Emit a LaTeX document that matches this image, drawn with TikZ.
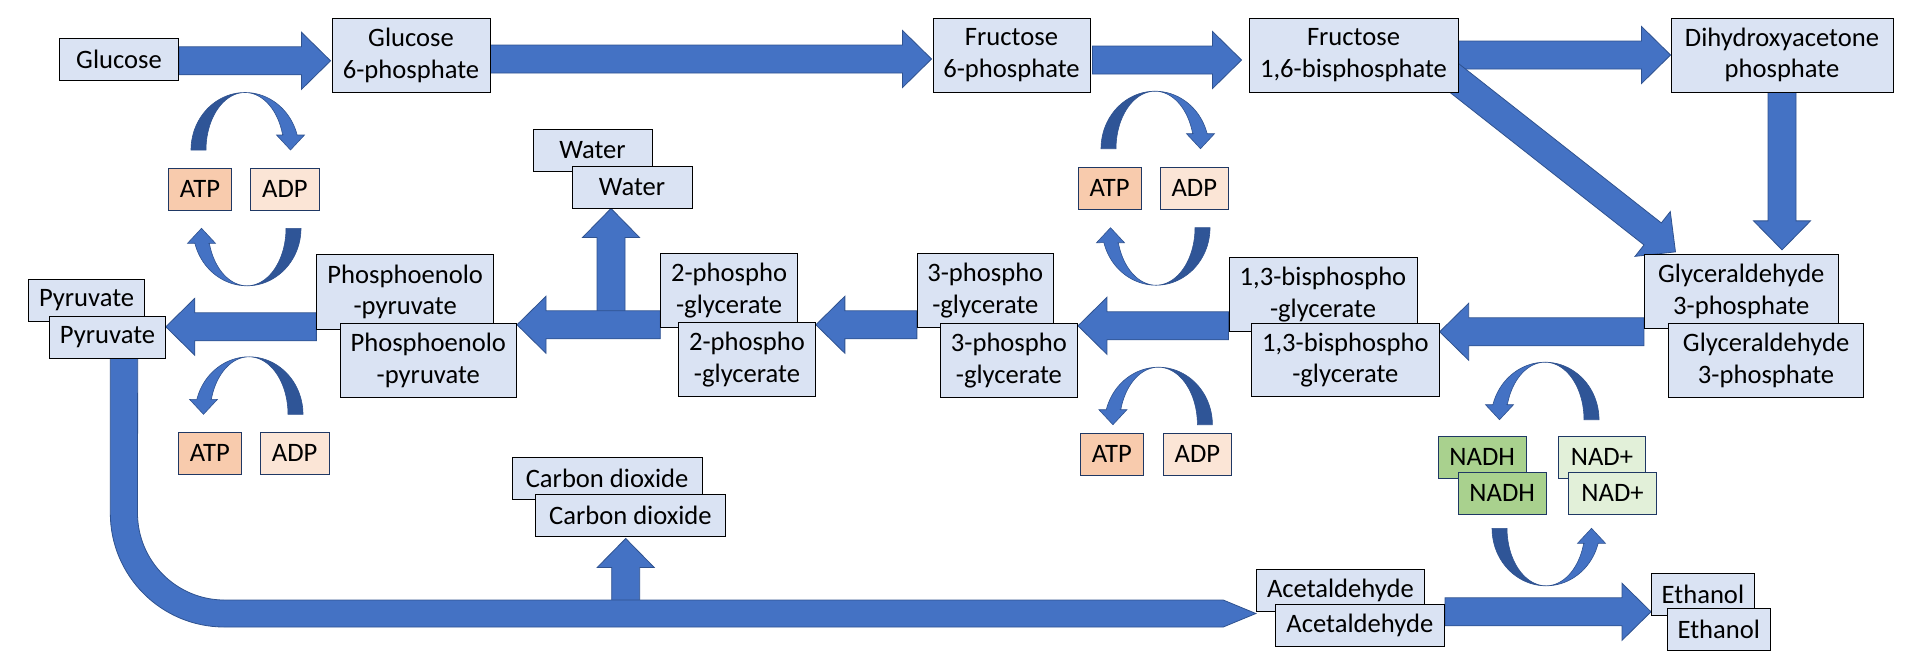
\documentclass[tikz,border=0pt]{standalone}
\usepackage{fontspec}
\setmainfont{Carlito}
\usetikzlibrary{calc}
\pgfdeclarelayer{bg}
\pgfsetlayers{bg,main}
\definecolor{boxfill}{HTML}{DAE3F3}
\definecolor{arrfill}{HTML}{4472C4}
\definecolor{arrline}{HTML}{2F528F}
\definecolor{cycdk}{HTML}{2F5597}
\definecolor{atpfill}{HTML}{F8CBAD}
\definecolor{adpfill}{HTML}{FBE5D6}
\definecolor{nadhfill}{HTML}{A9D18E}
\definecolor{nadfill}{HTML}{E2F0D9}
\definecolor{navy}{HTML}{1F3864}
\tikzset{
  txt/.style={font=\fontsize{13.3}{15.8}\selectfont, align=center, inner sep=0pt, text=black},
  box/.style={txt, draw=black, line width=0.45pt, fill=boxfill},
  chem/.style={txt, draw=navy, line width=0.45pt},
  sz/.style 2 args={minimum width=#1*0.5pt, minimum height=#2*0.5pt},
  barrow/.style={fill=arrfill, draw=arrline, line width=0.4pt, line join=miter},
  cycdark/.style={fill=cycdk, draw=arrline, line width=0.3pt},
  cyclight/.style={fill=arrfill, draw=arrline, line width=0.3pt},
}
\newcommand\blockarrow[2]{%
  \filldraw[barrow] let \p1=(#1), \p2=(#2),
    \n1={atan2(\y2-\y1,\x2-\x1)}, \n2={veclen(\x2-\x1,\y2-\y1)} in
    ($(\p1)+({\n1+90}:7pt)$)
 -- ($(\p1)+({\n1}:{\n2-14.5pt})+({\n1+90}:7pt)$)
 -- ($(\p1)+({\n1}:{\n2-14.5pt})+({\n1+90}:14.25pt)$)
 -- (\p2)
 -- ($(\p1)+({\n1}:{\n2-14.5pt})+({\n1-90}:14.25pt)$)
 -- ($(\p1)+({\n1}:{\n2-14.5pt})+({\n1-90}:7pt)$)
 -- ($(\p1)+({\n1-90}:7pt)$) -- cycle;}
\newcommand\cyc[4]{%
  \filldraw[cycdark] plot[domain=180:90,samples=31] ({#1+(#3)*54*cos(\x)},{#2-(#4)*57.5*sin(\x)})
     -- plot[domain=90:180,samples=31] ({#1+(#3)*39*cos(\x)},{#2-(#4)*57.5*sin(\x)}) -- cycle;
  \filldraw[cyclight] plot[domain=90:15.1,samples=31] ({#1+(#3)*54*cos(\x)},{#2-(#4)*57.5*sin(\x)})
     -- ({#1+(#3)*59.5},{#2-(#4)*15})
     -- ({#1+(#3)*45.5},{#2})
     -- ({#1+(#3)*31.5},{#2-(#4)*15})
     -- ({#1+(#3)*37.7},{#2-(#4)*15})
     -- plot[domain=15.1:90,samples=31] ({#1+(#3)*39*cos(\x)},{#2-(#4)*57.5*sin(\x)}) -- cycle;}
\begin{document}
\begin{tikzpicture}[x=0.5pt, y=-0.5pt]
\useasboundingbox (0,0) rectangle (1920,666);
% top row
\node[box, sz={118.8}{42}] (glc) at (119,59.3) {Glucose};
\node[box, sz={158}{74}] (g6p) at (411,55.3) {Glucose\\6-phosphate};
\node[box, sz={157}{74}] (f6p) at (1011.5,55) {Fructose\\6-phosphate};
\node[box, sz={209}{74}] (f16) at (1353.5,55) {Fructose\\1,6-bisphosphate};
\node[box, sz={222}{74}] (dhap) at (1782,55) {Dihydroxyacetone\\phosphate};
% middle row
\node[box, sz={193.8}{74}] (ga3a) at (1741.3,291.3) {Glyceraldehyde\\3-phosphate};
\node[box, sz={194.6}{74}] (ga3b) at (1766.1,360.3) {Glyceraldehyde\\3-phosphate};
\node[box, sz={188}{73.5}] (bpga) at (1323,294.3) {1,3-bisphospho\\-glycerate};
\node[box, sz={187.8}{73.4}] (bpgb) at (1345.3,360) {1,3-bisphospho\\-glycerate};
\node[box, sz={136}{74}] (pg3a) at (985.3,290.3) {3-phospho\\-glycerate};
\node[box, sz={137.2}{74}] (pg3b) at (1008.9,360.3) {3-phospho\\-glycerate};
\node[box, sz={136.8}{74}] (pg2a) at (729.1,290.3) {2-phospho\\-glycerate};
\node[box, sz={136.8}{74}] (pg2b) at (747,359.7) {2-phospho\\-glycerate};
\node[box, sz={176.8}{75}] (pepa) at (405.2,291.8) {Phosphoenolo\\-pyruvate};
\node[box, sz={176.5}{74}] (pepb) at (428.3,360.3) {Phosphoenolo\\-pyruvate};
\node[box, sz={116}{41.7}] (pyra) at (86.6,300.2) {Pyruvate};
\node[box, sz={115.7}{41.7}] (pyrb) at (107.5,337.2) {Pyruvate};
\node[box, sz={119}{42}] (watera) at (592.5,150) {Water};
\node[box, sz={120}{42}] (waterb) at (632,187) {Water};
% bottom
\node[box, sz={189.8}{41.7}] (co2a) at (607.1,478.2) {Carbon dioxide};
\node[box, sz={190.7}{42}] (co2b) at (630.4,515.3) {Carbon dioxide};
\node[box, sz={168.2}{42}] (acea) at (1340.4,590.3) {Acetaldehyde};
\node[box, sz={169.5}{42.3}] (aceb) at (1359.8,625.2) {Acetaldehyde};
\node[box, sz={102.9}{42}] (etha) at (1702.9,594.3) {Ethanol};
\node[box, sz={102.9}{41.7}] (ethb) at (1718.8,629.2) {Ethanol};
% cofactors
\node[chem, fill=atpfill, sz={62.8}{42}] (atp1) at (200,189.3) {ATP};
\node[chem, fill=adpfill, sz={69.4}{42}] (adp1) at (284.9,189.3) {ADP};
\node[chem, fill=atpfill, sz={63.2}{42.3}] (atp2) at (1109.6,188.2) {ATP};
\node[chem, fill=adpfill, sz={67.8}{42.3}] (adp2) at (1194.3,188.2) {ADP};
\node[chem, fill=atpfill, sz={62.8}{42}] (atp3) at (209.8,453.3) {ATP};
\node[chem, fill=adpfill, sz={68.6}{42}] (adp3) at (294.7,453.3) {ADP};
\node[chem, fill=atpfill, sz={63.7}{42.7}] (atp4) at (1111.9,454.3) {ATP};
\node[chem, fill=adpfill, sz={68.1}{42.7}] (adp4) at (1197.4,454.3) {ADP};
\node[chem, fill=nadhfill, sz={87.6}{42}] (nadha) at (1482.2,457.3) {NADH};
\node[chem, fill=nadhfill, sz={87.6}{42}] (nadhb) at (1502.2,493.3) {NADH};
\node[chem, fill=nadfill, sz={86.9}{42}] (nada) at (1601.9,457.3) {NAD+};
\node[chem, fill=nadfill, sz={87.7}{42}] (nadb) at (1612.5,493.3) {NAD+};
% junction coordinates
\coordinate (wj) at (611,322);
\coordinate (cj) at (625.7,610);
\coordinate (bs) at ($(pyrb.south)+(16.5,-8)$);
\coordinate (bt) at ($(acea.west)+(0,23.2)$);
\begin{pgfonlayer}{bg}
\blockarrow{$(glc.east)+(0,1.5)$}{$(g6p.west |- glc.east)+(-1,1.5)$}
\blockarrow{$(g6p.east)+(0,3.7)$}{$(f6p.west |- g6p.east)+(-1,3.7)$}
\blockarrow{$(f6p.east)+(2,5)$}{$(f16.west |- f6p.east)+(-7,5)$}
\blockarrow{f16.east}{dhap.west}
\blockarrow{dhap.south}{$(dhap.south |- ga3a.north)+(0,-4)$}
\blockarrow{$(f16.south east)+(-18,-25.3)$}{$(ga3a.north west)+(31.5,-2)$}
\blockarrow{$(ga3a.south west)+(0,3)$}{$(bpgb.east |- ga3a.south west)+(0,3)$}
\blockarrow{$(bpga.south west)+(0,-5.7)$}{$(pg3b.east |- bpga.south west)+(0,-5.7)$}
\blockarrow{$(pg3a.south west)+(0,-3)$}{$(pg2b.east |- pg3a.south west)+(0,-3)$}
\blockarrow{wj}{wj |- waterb.south}
\blockarrow{$(pg2a.south west)+(0,-3)$}{$(pepb.east |- pg2a.south west)+(0,-3)$}
\blockarrow{$(pepa.south west)+(0,-3)$}{$(pyrb.east |- pepa.south west)+(0,-3)$}
\blockarrow{cj}{$(cj |- co2b.south)+(0,1.7)$}
\filldraw[barrow] ($(bs)+(-13.7,0)$) -- ($(bs |- bt)+(-13.7,-100.5)$)
   arc[start angle=180,end angle=270,radius=57pt]
   -- ($(bt)+(-32.6,13.5)$) -- (bt) -- ($(bt)+(-32.6,-13.5)$)
   -- ($(bs |- bt)+(100.5,-13.5)$)
   arc[start angle=270,end angle=180,radius=43.5pt]
   -- ($(bs)+(13.7,0)$) -- cycle;
\blockarrow{$(aceb.east)+(0,-13.4)$}{$(etha.west |- aceb.east)+(0,-13.4)$}
% cofactor cycles
\cyc{245}{150}{1}{1}
\cyc{247}{228.3}{-1}{-1}
\cyc{249}{414.3}{-1}{1}
\cyc{1155}{148.7}{1}{1}
\cyc{1156}{227.7}{-1}{-1}
\cyc{1158.4}{424.7}{-1}{1}
\cyc{1545}{419.7}{-1}{1}
\cyc{1546}{528.3}{1}{-1}
\end{pgfonlayer}
\end{tikzpicture}
\end{document}
